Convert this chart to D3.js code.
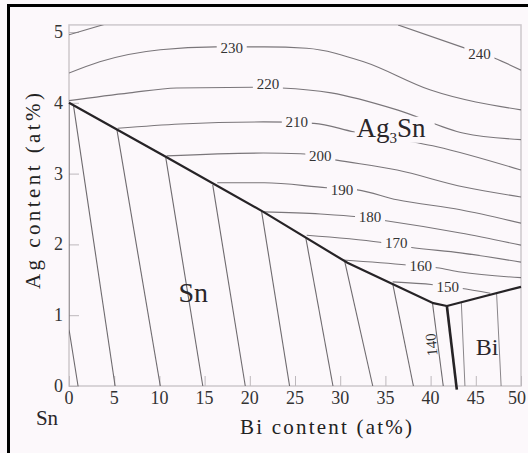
<!DOCTYPE html>
<html>
<head>
<meta charset="utf-8">
<script src="https://cdn.jsdelivr.net/npm/d3@7"></script>
<style>
  body { margin: 0; background: #fcf8fb; }
  svg { display: block; }
</style>
</head>
<body>
<div id="chart"></div>
<script>
// axis ticks
var xTicks = [0, 5, 10, 15, 20, 25, 30, 35, 40, 45, 50];
var yTicks = [0, 1, 2, 3, 4, 5];

// liquidus valley (Sn / Ag3Sn and Bi / Ag3Sn) and Sn / Bi valley
var valleySn = [[0, 4.0], [10.8, 3.23], [21.5, 2.46], [30.8, 1.74], [40.3, 1.17], [41.8, 1.13]];
var valleyBi = [[41.8, 1.13], [50, 1.40]];
var valleySnBi = [[41.8, 1.13], [42.9, -0.05]];

// isotherms in the Ag3Sn field
var agTemps = ["240", "240", "230", "220", "210", "200", "190", "180", "170", "160", "150"];
var agLines = [
  [[0, 4.96], [4.5, 5.13]],
  [[36.4, 5.10], [43.4, 4.79], [47.1, 4.63], [50, 4.46]],
  [[0, 4.42], [3.4, 4.58], [10.1, 4.75], [16.2, 4.79], [21.6, 4.79], [26.3, 4.77], [32.6, 4.58], [40.0, 4.18], [50, 3.90]],
  [[0, 4.03], [6.7, 4.14], [11.9, 4.21], [20.4, 4.22], [23.5, 4.21], [29, 4.14], [36.3, 3.90], [43.7, 3.57], [50, 3.48]],
  [[5.4, 3.64], [12.3, 3.70], [21.5, 3.73], [27.1, 3.71], [31.5, 3.59], [40.7, 3.38], [50, 3.05]],
  [[10.8, 3.25], [21.5, 3.29], [25.6, 3.28], [29.6, 3.19], [36.3, 3.05], [43.7, 2.81], [50, 2.67]],
  [[16.4, 2.87], [21.6, 2.87], [28.5, 2.80], [31.9, 2.77], [36.3, 2.63], [43.3, 2.49], [50, 2.30]],
  [[21.5, 2.46], [27.8, 2.43], [31.9, 2.39], [34.7, 2.34], [43.3, 2.16], [50, 1.99]],
  [[26.3, 2.13], [34.4, 2.03], [37.7, 1.96], [43.3, 1.88], [50, 1.75]],
  [[30.3, 1.78], [37.4, 1.71], [40.7, 1.67], [43.3, 1.61], [50, 1.53]],
  [[35.8, 1.47], [40.3, 1.43], [43.3, 1.38], [46.6, 1.31]]
];
// where the isotherm numbers sit (Bi at%, Ag at%)
var agLabelAt = [null, [45.4, 4.69], [18.0, 4.78], [22.0, 4.27], [25.2, 3.73], [27.8, 3.25],
                 [30.2, 2.77], [33.3, 2.39], [36.2, 2.02], [38.9, 1.69], [41.9, 1.40]];

// isotherms in the Sn field (230 ... 140)
var snTemps = ["230", "220", "210", "200", "190", "180", "170", "160", "150", "140"];
var snLines = [
  [[0, 4.0], [0, 0.8], [1.0, 0]],
  [[0.5, 3.96], [5.1, 0]],
  [[5.3, 3.62], [10.1, 0]],
  [[10.7, 3.23], [14.8, 0]],
  [[15.9, 2.84], [19.5, 0]],
  [[21.3, 2.47], [24.4, 0]],
  [[26.2, 2.09], [29.2, 0]],
  [[30.5, 1.76], [33.6, 0]],
  [[35.8, 1.45], [38.1, 0]],
  [[40.2, 1.18], [41.4, 0]]
];

// isotherms in the Bi field
var biLines = [
  [[43.4, 1.18], [43.8, 0]],
  [[47.3, 1.31], [47.8, 0]]
];

var bg = "#fcf8fb";
var W = 528, H = 453;

var svg = d3.select("#chart").append("svg")
    .attr("width", W)
    .attr("height", H);

svg.append("rect").attr("width", W).attr("height", H).style("fill", bg);

var x = d3.scaleLinear().domain([0, 50]).range([69, 521]);
var y = d3.scaleLinear().domain([0, 5]).range([386, 32]);

// clip to the plot frame
svg.append("clipPath").attr("id", "plot")
  .append("rect")
    .attr("x", x(0)).attr("y", y(5.1))
    .attr("width", x(50) - x(0)).attr("height", y(-0.1) - y(5.1));

// frame
svg.append("rect")
    .attr("x", x(0)).attr("y", y(5.1))
    .attr("width", x(50) - x(0)).attr("height", y(0) - y(5.1))
    .style("fill", "none")
    .style("stroke", "#cdc8cc")
    .style("stroke-width", 1.5);

// ticks (inside)
svg.append("g").attr("transform", "translate(0," + y(0) + ")")
  .call(d3.axisTop(x).tickValues(xTicks).tickSize(10).tickFormat(""))
  .call(function(g){ g.select(".domain").remove(); g.selectAll("line").style("stroke", "#bdb8bc"); });
svg.append("g").attr("transform", "translate(" + x(0) + ",0)")
  .call(d3.axisRight(y).tickValues(yTicks).tickSize(10).tickFormat(""))
  .call(function(g){ g.select(".domain").remove(); g.selectAll("line").style("stroke", "#bdb8bc"); });

var serif = "'Liberation Serif', 'DejaVu Serif', serif";

// tick labels
svg.selectAll(".xl").data(xTicks).enter().append("text")
    .attr("class", "xl")
    .attr("x", function(d){ return Math.min(x(d), 517); })
    .attr("y", y(0) + 18)
    .attr("text-anchor", "middle")
    .style("font-family", serif)
    .style("font-size", "18px")
    .style("fill", "#333")
    .text(function(d){ return d; });

svg.selectAll(".yl").data(yTicks).enter().append("text")
    .attr("class", "yl")
    .attr("x", x(0) - 6)
    .attr("y", function(d){ return y(d) + 6; })
    .attr("text-anchor", "end")
    .style("font-family", serif)
    .style("font-size", "18px")
    .style("fill", "#333")
    .text(function(d){ return d; });

var lineSmooth = d3.line()
    .x(function(d){ return x(d[0]); })
    .y(function(d){ return y(d[1]); })
    .curve(d3.curveMonotoneX);
var lineStraight = d3.line()
    .x(function(d){ return x(d[0]); })
    .y(function(d){ return y(d[1]); });

var plot = svg.append("g").attr("clip-path", "url(#plot)");

// Ag3Sn isotherms
plot.selectAll(".iso-ag").data(agLines).enter().append("path")
    .attr("class", "iso-ag")
    .attr("d", lineSmooth)
    .style("fill", "none")
    .style("stroke", "#7a767a")
    .style("stroke-width", 1.1);

// Sn isotherms
plot.selectAll(".iso-sn").data(snLines).enter().append("path")
    .attr("class", "iso-sn")
    .attr("d", lineStraight)
    .style("fill", "none")
    .style("stroke", "#6e6a6e")
    .style("stroke-width", 1.1);

// Bi isotherms
plot.selectAll(".iso-bi").data(biLines).enter().append("path")
    .attr("class", "iso-bi")
    .attr("d", lineStraight)
    .style("fill", "none")
    .style("stroke", "#8a868a")
    .style("stroke-width", 1);

// valleys
svg.append("path").datum(valleySn)
    .attr("d", lineStraight)
    .style("fill", "none").style("stroke", "#262326").style("stroke-width", 2.2);
svg.append("path").datum(valleyBi)
    .attr("d", lineStraight)
    .style("fill", "none").style("stroke", "#262326").style("stroke-width", 2.2);
svg.append("path").datum(valleySnBi)
    .attr("d", lineStraight)
    .style("fill", "none").style("stroke", "#262326").style("stroke-width", 2.6);

// isotherm numbers
agTemps.forEach(function(t, i){
  var p = agLabelAt[i];
  if (!p) return;
  var g = svg.append("g").attr("transform", "translate(" + x(p[0]) + "," + y(p[1]) + ")");
  g.append("rect")
    .attr("x", -15).attr("y", -7).attr("width", 30).attr("height", 14)
    .style("fill", bg);
  g.append("text")
    .attr("y", 5)
    .attr("text-anchor", "middle")
    .style("font-family", serif)
    .style("font-size", "15px")
    .style("fill", "#333")
    .text(t);
});

// 140 along the last Sn isotherm
svg.append("text")
    .attr("transform", "translate(" + (x(40.2) + 4) + "," + y(0.59) + ") rotate(-95)")
    .attr("text-anchor", "middle")
    .style("font-family", serif)
    .style("font-size", "15px")
    .style("fill", "#333")
    .text(snTemps[9]);

// phase labels
svg.append("rect")
    .attr("x", x(31.6)).attr("y", y(3.52) - 20)
    .attr("width", 80).attr("height", 26)
    .style("fill", bg);
var ag = svg.append("text")
    .attr("x", x(31.8)).attr("y", y(3.52))
    .style("font-family", serif)
    .style("font-size", "27px")
    .style("fill", "#2a262a");
ag.append("tspan").text("Ag");
ag.append("tspan").attr("dy", 6).style("font-size", "15px").text("3");
ag.append("tspan").attr("dy", -6).text("Sn");

svg.append("text")
    .attr("x", x(12.1)).attr("y", y(1.18))
    .style("font-family", serif)
    .style("font-size", "28px")
    .style("fill", "#2a262a")
    .text("Sn");

svg.append("text")
    .attr("x", x(45)).attr("y", y(0.44))
    .style("font-family", serif)
    .style("font-size", "24px")
    .style("fill", "#2a262a")
    .text("Bi");

svg.append("text")
    .attr("x", 47).attr("y", 425)
    .attr("text-anchor", "middle")
    .style("font-family", serif)
    .style("font-size", "21px")
    .style("fill", "#2a262a")
    .text("Sn");

// axis titles
svg.append("text")
    .attr("x", 240).attr("y", 434)
    .attr("textLength", 172)
    .attr("lengthAdjust", "spacing")
    .style("font-family", serif)
    .style("font-size", "21px")
    .style("fill", "#222")
    .text("Bi content  (at%)");

svg.append("text")
    .attr("transform", "translate(40,289) rotate(-90)")
    .attr("textLength", 196)
    .attr("lengthAdjust", "spacing")
    .style("font-family", serif)
    .style("font-size", "21px")
    .style("fill", "#222")
    .text("Ag content  (at%)");

// outer border
svg.append("rect")
    .attr("x", 8.5).attr("y", 5.5)
    .attr("width", 560).attr("height", 480)
    .style("fill", "none")
    .style("stroke", "#000")
    .style("stroke-width", 3);
</script>
</body>
</html>
